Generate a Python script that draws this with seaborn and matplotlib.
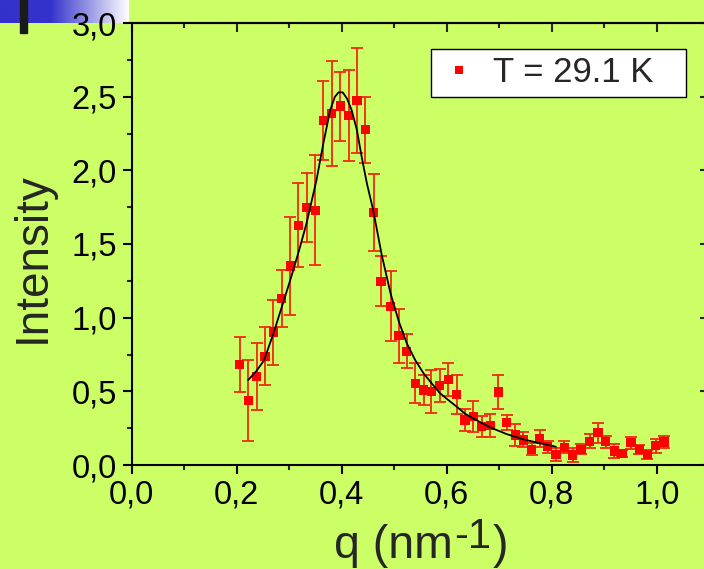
import numpy as np
import pandas as pd
import matplotlib
matplotlib.use("Agg")
import matplotlib.pyplot as plt
from matplotlib.patches import Rectangle
from matplotlib.lines import Line2D
import seaborn as sns

# ---------------- data ----------------
q = [0.206, 0.222, 0.238, 0.254, 0.270, 0.286, 0.302, 0.317, 0.333, 0.350,
     0.365, 0.381, 0.397, 0.413, 0.429, 0.445, 0.461, 0.475, 0.493, 0.509,
     0.524, 0.540, 0.556, 0.571, 0.587, 0.603, 0.619, 0.635, 0.651, 0.667,
     0.683, 0.698, 0.714, 0.731, 0.746, 0.762, 0.777, 0.792, 0.808, 0.824,
     0.840, 0.856, 0.872, 0.888, 0.903, 0.919, 0.934, 0.951, 0.967, 0.982,
     0.998, 1.014]
intensity = [0.683, 0.439, 0.599, 0.739, 0.902, 1.131, 1.350, 1.628, 1.748, 1.730,
             2.336, 2.386, 2.436, 2.370, 2.476, 2.277, 1.712, 1.246, 1.077, 0.877,
             0.773, 0.554, 0.509, 0.497, 0.538, 0.579, 0.479, 0.305, 0.328, 0.260,
             0.269, 0.495, 0.287, 0.204, 0.170, 0.106, 0.181, 0.124, 0.072, 0.120,
             0.068, 0.106, 0.161, 0.219, 0.158, 0.095, 0.079, 0.151, 0.106, 0.072,
             0.131, 0.156]
err = [0.185, 0.275, 0.226, 0.199, 0.220, 0.192, 0.330, 0.283, 0.236, 0.374,
       0.267, 0.354, 0.234, 0.310, 0.357, 0.224, 0.262, 0.170, 0.237, 0.184,
       0.118, 0.135, 0.100, 0.145, 0.112, 0.114, 0.131, 0.073, 0.107, 0.070,
       0.076, 0.114, 0.052, 0.076, 0.051, 0.040, 0.059, 0.041, 0.045, 0.040,
       0.045, 0.034, 0.049, 0.068, 0.040, 0.049, 0.025, 0.040, 0.031, 0.032,
       0.048, 0.040]

fit_q = [0.222, 0.238, 0.252, 0.270, 0.286, 0.302, 0.319, 0.333, 0.352, 0.365,
         0.378, 0.387, 0.394, 0.402, 0.410, 0.419, 0.429, 0.438, 0.448, 0.460,
         0.476, 0.493, 0.509, 0.524, 0.540, 0.556, 0.571, 0.587, 0.603, 0.619,
         0.635, 0.651, 0.683, 0.714, 0.746, 0.778, 0.808]
fit_I = [0.577, 0.640, 0.710, 0.893, 1.074, 1.255, 1.459, 1.640, 1.934, 2.182,
         2.408, 2.499, 2.529, 2.529, 2.488, 2.408, 2.273, 2.092, 1.911, 1.730,
         1.430, 1.165, 0.972, 0.826, 0.712, 0.622, 0.556, 0.488, 0.441, 0.396,
         0.348, 0.315, 0.255, 0.210, 0.174, 0.147, 0.124]

legend_label = "T = 29.1 K"
xlabel_main, xlabel_sup, xlabel_end = "q (nm", "-1", ")"
ylabel_text = "Intensity"
x_major = [0.0, 0.2, 0.4, 0.6, 0.8, 1.0]
x_major_labels = ["0,0", "0,2", "0,4", "0,6", "0,8", "1,0"]
x_minor = [0.1, 0.3, 0.5, 0.7, 0.9, 1.1]
y_major = [0.0, 0.5, 1.0, 1.5, 2.0, 2.5, 3.0]
y_major_labels = ["0,0", "0,5", "1,0", "1,5", "2,0", "2,5", "3,0"]
y_minor = [0.25, 0.75, 1.25, 1.75, 2.25, 2.75]

# ---------------- style ----------------
BG = "#ccff66"
sns.set_theme(style="ticks")
plt.rcParams["font.family"] = ["Liberation Sans", "DejaVu Sans"]

W, H = 704, 569
fig = plt.figure(figsize=(W / 100, H / 100), dpi=100, facecolor=BG)

# decorative header (blue gradient band + dark bar), top-left corner
deco = fig.add_axes([0, 1 - 22.7 / H, 129.0 / W, 22.7 / H], zorder=1)
xs = np.linspace(0, 1, 200)
blue = np.array([0.20, 0.20, 0.80])
t = np.clip((xs - 0.39) / 0.61, 0, 1)[:, None]
grad = blue * (1 - t) + np.array([1.0, 1.0, 1.0]) * t
deco.imshow(grad[None, :, :], aspect="auto", extent=[0, 1, 0, 1])
deco.set_axis_off()
fig.patches.append(Rectangle((20 / W, 1 - 33 / H), 7 / W, 33 / H,
                             transform=fig.transFigure, color="#1a1a1a", zorder=5))

# main axes (right edge runs past the image edge as in the reference)
ax_l, ax_r, ax_t, ax_b = 131.7, 709.2, 23.0, 465.0
ax_w, ax_h = ax_r - ax_l, ax_b - ax_t
ax = fig.add_axes([ax_l / W, 1 - ax_b / H, ax_w / W, ax_h / H], zorder=3)
ax.set_facecolor(BG)

ax.errorbar(q, intensity, yerr=err, fmt="none", ecolor="#f02a10",
            elinewidth=1.3, capsize=4, capthick=1.3, zorder=2)
df = pd.DataFrame({"q": q, "I": intensity})
sns.scatterplot(data=df, x="q", y="I", marker="s", color="#ff0000", s=44,
                edgecolor="none", linewidth=0, ax=ax, zorder=3, legend=False)
fit_df = pd.DataFrame({"q": fit_q, "I": fit_I})
sns.lineplot(data=fit_df, x="q", y="I", color="black", linewidth=1.3,
             sort=False, estimator=None, ax=ax, zorder=4)

ax.set_xlim(0, 1.1)
ax.set_ylim(0, 3.0)
ax.set_xticks(x_major)
ax.set_xticklabels(x_major_labels)
ax.set_xticks(x_minor, minor=True)
ax.set_yticks(y_major)
ax.set_yticklabels(y_major_labels)
ax.set_yticks(y_minor, minor=True)

for s in ax.spines.values():
    s.set_linewidth(1.5)
    s.set_color("black")
    s.set_visible(True)

ax.tick_params(axis="both", which="major", direction="out", length=6.5, width=1.5,
               labelsize=23.5, colors="black", pad=4)
ax.tick_params(axis="both", which="minor", direction="out", length=3.8, width=1.5)
ax.tick_params(top=False, right=False, which="both")

secx = ax.secondary_xaxis("top")
secx.set_xticks(x_major)
secx.set_xticks(x_minor, minor=True)
secx.tick_params(which="major", direction="in", length=6.5, width=1.5, labeltop=False)
secx.tick_params(which="minor", direction="in", length=3.8, width=1.5)
secx.spines["top"].set_linewidth(1.5)
secy = ax.secondary_yaxis("right")
secy.set_yticks(y_major)
secy.set_yticks([], minor=True)
secy.tick_params(which="major", direction="in", length=6.5, width=1.5, labelright=False)
secy.spines["right"].set_linewidth(1.5)

# y label
ax.set_ylabel(ylabel_text, fontsize=33)
ax.yaxis.set_label_coords((55 - ax_l) / ax_w, (ax_b - 258) / ax_h)

# x label with large raised superscript, built from three pieces
base_y = (ax_b - 558) / ax_h
ax.set_xlabel(xlabel_main, fontsize=33.5, ha="left", va="baseline")
ax.xaxis.set_label_coords((334 - ax_l) / ax_w, base_y)
sup = ax.annotate(xlabel_sup, xy=(1, base_y), xycoords=(ax.xaxis.label, ax.transAxes),
                  xytext=(1, 7), textcoords="offset points", fontsize=30,
                  ha="left", va="baseline", annotation_clip=False)
ax.annotate(xlabel_end, xy=(1, base_y), xycoords=(sup, ax.transAxes),
            xytext=(1, 0), textcoords="offset points", fontsize=33.5,
            ha="left", va="baseline", annotation_clip=False)

handle = Line2D([], [], marker="s", color="#ff0000", linestyle="none", markersize=6.3,
                markeredgewidth=0)
leg = ax.legend([handle], [legend_label], loc="upper left",
                bbox_to_anchor=(0.518, 0.941, 0.442, 0.0), mode="expand",
                fontsize=25, frameon=True, fancybox=False, framealpha=1,
                edgecolor="black", facecolor="white", borderpad=0.21,
                handlelength=1.21, handletextpad=0.37, borderaxespad=0)
leg.get_frame().set_linewidth(1.0)

fig.savefig("out.png", dpi=100, facecolor=BG)
